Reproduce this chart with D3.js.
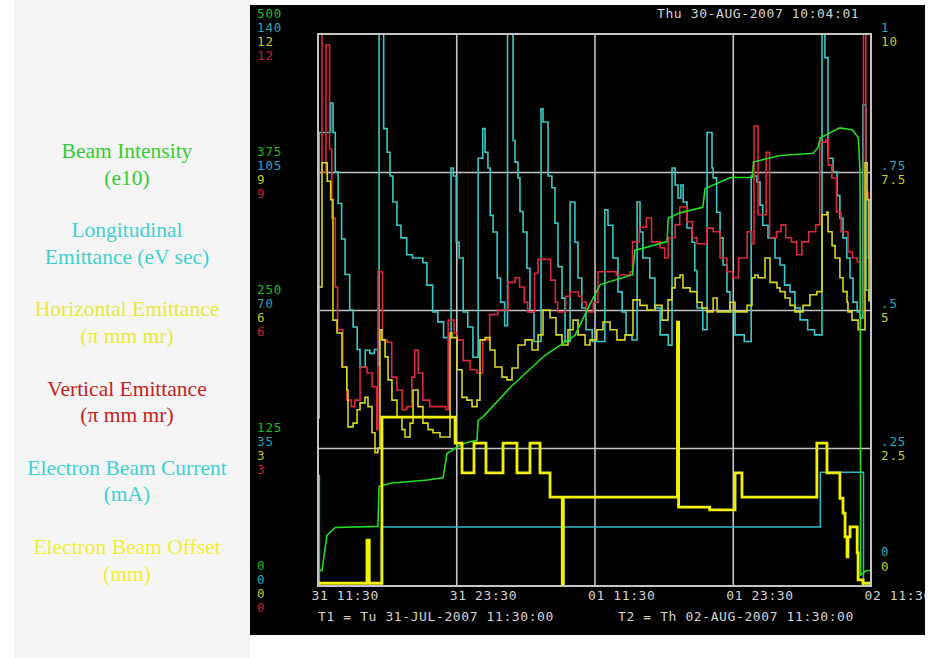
<!DOCTYPE html>
<html>
<head>
<meta charset="utf-8">
<script src="https://cdn.jsdelivr.net/npm/d3@7"></script>
<style>
body { margin: 0; background: #fff; }
</style>
</head>
<body>
<svg id="chart" width="930" height="658"></svg>
<script>
"use strict";

// ---- data (hours after T1, value) ----
const t1 = new Date(2007, 6, 31, 11, 30);
const t2 = new Date(2007, 7, 2, 11, 30);
const timeTicks = [0, 12, 24, 36, 48];

const intensityTicks = [0, 125, 250, 375, 500];
const longTicks = [0, 35, 70, 105, 140];
const horizTicks = [0, 3, 6, 9, 12];
const vertTicks = [0, 3, 6, 9, 12];
const currentTicks = [0, 0.25, 0.5, 0.75, 1];
const offsetTicks = [0, 2.5, 5, 7.5, 10];

const legendLabels = [
    ["Beam Intensity", "(e10)"],
    ["Longitudinal", "Emittance (eV sec)"],
    ["Horizontal Emittance", "(\u03c0 mm mr)"],
    ["Vertical Emittance", "(\u03c0 mm mr)"],
    ["Electron Beam Current", "(mA)"],
    ["Electron Beam Offset", "(mm)"]
];

const beamIntensity = [[0,125],[0.08,14],[0.35,14],[0.78,46],[1.5,53],[5.2,54],[5.3,90],[6.25,93],[9.5,96],
    [10.85,98],[11.2,120],[12.1,126],[12.9,130],[13.8,132],[13.9,150],[14.3,153],[16.7,180],[19.7,209],
    [22.3,227],[23.6,255],[24.5,273],[27.3,282],[27.5,304],[30.3,312],[30.4,333],[31.4,338],[33.4,343],
    [33.6,360],[35.8,370],[37.7,370],[37.8,384],[40.1,390],[42.97,392],[43.4,397],[43.6,406],[45.3,415],
    [46.4,413],[46.9,406],[47.05,375],[47.1,10],[47.6,14],[48,14]];

const longEmittance = [[0,42.6],[0.1,115],[1.1,122.5],[1.3,115],[1.5,105],[1.75,97],[2.05,88],[2.35,79],
    [2.75,70],[3.05,65.7],[3.4,60],[3.65,55.5],[4.1,59.8],[4.5,59],[4.9,60],[5.2,56],[5.3,140],[5.7,116],
    [6.0,110],[6.25,104],[6.5,97.4],[6.85,91.5],[7.2,88.3],[7.7,84],[8.2,83.2],[9.1,82],[9.45,76.3],
    [9.95,69.5],[10.4,67],[10.9,63],[11.55,106],[11.75,104],[12.0,87.2],[12.25,83.2],[12.6,69.5],
    [13.0,65.7],[13.45,58],[13.9,108.5],[14.3,116],[14.5,110],[14.75,106],[14.95,94],[15.2,89.8],
    [15.55,78.1],[15.85,72],[16.2,66],[16.45,140],[16.93,113],[17.1,107.5],[17.36,103.5],[17.53,95],
    [17.8,89.8],[18.14,80.6],[18.4,69.5],[18.75,62],[19.36,121],[19.53,117.7],[19.97,104],[20.3,101],
    [20.57,92],[20.83,81],[21.18,73],[21.44,62],[21.88,97.4],[22.3,87.2],[22.57,78.1],[22.9,70.5],
    [23.26,65],[23.8,62],[24.9,95.4],[25.17,91.5],[25.6,83.2],[26.04,74.6],[26.4,69.5],[26.74,63.7],
    [27.26,62.4],[27.7,97.4],[27.95,89.8],[28.2,83.2],[28.8,78.1],[29.25,70.5],[29.7,63.7],[30.4,61.1],
    [30.73,106],[31.0,101.7],[31.25,98.4],[31.5,101.7],[31.7,97.4],[32.03,90.8],[32.47,87.2],[32.7,80],
    [32.9,70.5],[33.4,65],[33.77,115],[34.2,106],[34.3,103.5],[34.6,94.8],[34.9,88.3],[35.16,81.4],
    [35.5,74.6],[35.76,69.5],[36.2,63.7],[37.0,62],[37.6,104],[38.1,102.5],[38.37,96.6],[38.6,91.5],
    [39.06,88.3],[39.67,83.2],[40.1,81.4],[40.5,76.3],[40.97,74.6],[41.4,70.5],[41.84,67.5],[42.5,65],
    [43.1,63.7],[43.75,140],[44.0,134],[44.27,108.5],[44.7,105],[45.05,99],[45.3,93.3],[45.57,88.3],
    [45.9,83.2],[46.18,78.1],[46.44,72],[46.8,69.5],[47.05,68],[47.3,122],[47.57,75],[47.83,72.5],[48,72.5]];

const horizEmittance = [[0,6.5],[0.35,9.2],[0.8,8.8],[1.1,8.4],[1.3,5.78],[1.65,5.5],[2.08,4.76],[2.5,4.26],
    [2.6,3.46],[3.04,3.54],[3.39,3.83],[3.65,3.98],[4.08,4.1],[4.34,3.9],[4.69,3.33],[4.95,2.9],[5.2,3.0],
    [5.38,5.57],[5.55,5.35],[5.82,4.98],[6.08,4.48],[6.42,4.04],[6.86,3.67],[7.29,3.4],[7.55,3.24],
    [7.99,3.54],[8.25,4.26],[8.68,3.9],[9.11,3.54],[9.55,3.4],[9.98,3.33],[10.59,3.24],[11.2,3.24],
    [11.46,5.5],[11.63,5.4],[12.07,4.7],[12.5,4.1],[12.93,4.04],[13.37,3.9],[13.8,4.04],[14.06,5.35],
    [14.5,5.4],[14.93,5.13],[15.36,4.76],[15.97,4.54],[16.4,4.48],[16.84,4.74],[17.36,5.24],[17.97,5.35],
    [18.58,5.13],[19.1,5.46],[19.53,6.0],[20.14,5.83],[20.66,5.46],[21.18,5.24],[21.7,5.57],[22.14,5.78],
    [22.57,5.46],[23.18,5.24],[23.61,5.35],[24.2,5.57],[24.74,5.74],[25.35,5.57],[25.95,5.35],[26.65,5.46],
    [27.34,6.22],[27.95,6.1],[28.56,6.0],[29.25,6.1],[29.86,5.78],[30.38,6.22],[30.73,6.48],[31.0,6.7],
    [31.42,6.76],[31.68,6.48],[32.3,6.4],[32.9,6.17],[33.33,6.04],[33.77,5.96],[34.3,6.26],[34.64,5.96],
    [35.76,6.17],[36.2,5.96],[37.24,6.1],[37.67,6.7],[37.93,6.76],[38.2,6.7],[38.8,7.13],[39.06,7.13],
    [39.24,6.6],[39.84,6.48],[40.1,6.4],[40.54,6.26],[40.97,6.1],[41.4,5.96],[42.1,6.1],[42.7,6.33],
    [43.3,6.4],[43.75,8.07],[44.18,8.13],[44.27,7.7],[44.62,7.4],[44.88,7.13],[45.3,6.7],[45.57,6.4],
    [45.92,6.17],[46.0,5.96],[46.35,5.78],[46.88,5.57],[47.48,9.2],[47.66,8.4],[47.83,6.2],[48,6.2]];

const vertEmittance = [[0,12],[0.35,9.0],[0.7,11.76],[1.0,9.5],[1.2,8.0],[1.5,6.5],[1.7,5.57],[2.15,4.76],
    [2.5,4.04],[2.9,3.9],[3.2,4.04],[3.65,4.76],[4.25,4.63],[4.7,4.33],[5.1,3.4],[5.2,6.83],[5.6,5.35],
    [6.0,5.3],[6.4,4.54],[6.85,4.26],[7.3,3.83],[7.7,3.9],[8.15,4.54],[8.4,5.13],[8.7,4.63],[9.1,4.04],
    [9.7,3.9],[10.6,3.9],[11.1,3.83],[11.3,5.78],[11.8,5.5],[12.1,5.35],[12.6,4.9],[13.2,4.7],[13.8,4.63],
    [14.3,5.35],[14.9,5.9],[15.6,6.0],[16.5,6.6],[17.1,6.7],[17.5,6.5],[17.9,6.17],[18.2,5.96],[18.8,6.8],
    [19.1,7.1],[19.97,7.1],[20.2,6.65],[20.6,6.17],[20.8,5.96],[21.5,6.3],[21.9,6.39],[22.6,6.3],
    [22.9,6.17],[23.3,5.96],[23.9,6.17],[24.3,6.83],[25.5,6.83],[25.9,6.76],[27.1,6.83],[27.3,7.48],
    [27.9,7.8],[28.5,8.0],[28.95,7.48],[29.7,7.35],[30.1,7.13],[30.4,7.57],[31.0,7.85],[31.4,8.24],
    [32.0,7.92],[32.5,7.57],[32.9,7.44],[33.75,7.78],[34.3,7.7],[34.9,7.13],[35.5,6.83],[36.0,6.7],
    [36.5,7.13],[37.25,7.7],[37.65,7.44],[37.85,10.0],[38.2,8.07],[38.9,9.43],[39.2,7.57],[39.8,7.7],
    [40.2,7.85],[40.6,7.57],[41.1,7.48],[41.55,7.2],[42.0,7.48],[42.6,7.7],[43.2,7.85],[43.55,9.65],
    [44.1,9.7],[44.3,9.15],[44.6,8.87],[45.0,8.13],[45.4,7.7],[46.0,7.26],[46.4,7.13],[46.8,7.05],
    [47.1,6.0],[47.35,12.0],[47.55,8.56],[47.75,7.13],[48,7.13]];

const ebCurrent = [[0,0.2],[0.12,0],[5.5,0.107],[43.6,0.206],[47.35,0],[48,0]];

const ebOffset = [[0,0.05],[4.25,0.83],[4.45,0.05],[5.55,3.06],[11.9,2.59],[12.5,2.05],[13.54,2.59],
    [14.58,2.05],[16.06,2.59],[17.27,2.05],[18.4,2.59],[19.27,2.05],[20.14,1.61],[21.2,0],[21.3,1.61],
    [31.2,4.78],[31.3,1.43],[34.0,1.38],[36.2,2.05],[36.8,1.61],[43.3,2.59],[44.18,2.05],[45.3,1.59],
    [45.57,1.32],[45.75,0.89],[45.92,0.53],[46.0,0.89],[46.18,1.07],[46.8,0.6],[46.88,0.11],[47.3,0.05],[48,0.05]];

// ---- colours ----
const cGreen = "#22dd22", cCyan = "#3cc8c8", cYellow = "#d6d61e", cRed = "#d8283c";
const cOffset = "#f2f200", cCurrent = "#30b8c8";
const legendColors = ["#33cc33", "#3fd0d0", "#e8e83a", "#c82020", "#3fd0d0", "#eeee33"];
const mono = "'DejaVu Sans Mono', monospace";
const labelGray = "#d4d4d4";

const svg = d3.select("#chart");

// left legend panel
svg.append("rect").attr("x", 14).attr("y", 0).attr("width", 236).attr("height", 658).attr("fill", "#f5f5f5");
legendLabels.forEach(function(lines, i) {
    lines.forEach(function(t, j) {
        svg.append("text")
        .attr("x", 127)
        .attr("y", 158 + i * 79.2 + j * 26.5)
        .attr("text-anchor", "middle")
        .attr("font-family", "'Liberation Serif', 'Times New Roman', serif")
        .attr("font-size", 21.5)
        .attr("fill", legendColors[i])
        .text(t);
    });
});

// black scope panel
svg.append("clipPath").attr("id", "panelClip")
    .append("rect").attr("x", 250).attr("y", 5).attr("width", 675).attr("height", 630);
const panel = svg.append("g").attr("clip-path", "url(#panelClip)");
panel.append("rect").attr("x", 250).attr("y", 5).attr("width", 675).attr("height", 630).attr("fill", "#000");

const plotLeft = 318, plotRight = 871, plotTop = 34, plotBottom = 586;

const x = d3.scaleTime().domain([t1, t2]).range([plotLeft, plotRight]);
const hourToDate = h => new Date(+t1 + h * 3600e3);
const yInt = d3.scaleLinear().domain([0, 500]).range([plotBottom, plotTop]);
const yLong = d3.scaleLinear().domain([0, 140]).range([plotBottom, plotTop]);
const yHor = d3.scaleLinear().domain([0, 12]).range([plotBottom, plotTop]);
const yVer = d3.scaleLinear().domain([0, 12]).range([plotBottom, plotTop]);
const yCur = d3.scaleLinear().domain([0, 1]).range([plotBottom, plotTop]);
const yOff = d3.scaleLinear().domain([0, 10]).range([plotBottom, plotTop]);

const tickDates = timeTicks.map(hourToDate);

// grid
panel.append("g")
    .attr("class", "yGrid grid")
    .attr("transform", `translate(${plotLeft},0)`)
    .call(d3.axisLeft(yInt).tickValues(intensityTicks.slice(1, 4)).tickSize(-(plotRight - plotLeft)).tickFormat(""));
panel.append("g")
    .attr("class", "xGrid grid")
    .attr("transform", `translate(0,${plotBottom})`)
    .call(d3.axisBottom(x).tickValues(tickDates.slice(1, 4)).tickSize(-(plotBottom - plotTop)).tickFormat(""));
panel.selectAll("g.grid .domain").remove();
panel.selectAll("g.grid line").attr("stroke", "#c4c4c4").attr("stroke-width", 1.6);

// traces
svg.append("clipPath").attr("id", "plotClip")
    .append("rect").attr("x", plotLeft).attr("y", plotTop - 1)
    .attr("width", plotRight - plotLeft).attr("height", plotBottom - plotTop + 2);
const plot = panel.append("g").attr("clip-path", "url(#plotClip)");

function trace(data, y, color, width, curve) {
    plot.append("path")
        .datum(data)
        .attr("fill", "none")
        .attr("stroke", color)
        .attr("stroke-width", width)
        .attr("stroke-linejoin", "miter")
        .attr("d", d3.line().x(d => x(hourToDate(d[0]))).y(d => y(d[1])).curve(curve));
}
trace(longEmittance, yLong, cCyan, 1.6, d3.curveStepAfter);
trace(vertEmittance, yVer, cRed, 1.6, d3.curveStepAfter);
trace(horizEmittance, yHor, cYellow, 1.6, d3.curveStepAfter);
trace(ebCurrent, yCur, cCurrent, 1.5, d3.curveStepAfter);
trace(beamIntensity, yInt, cGreen, 1.6, d3.curveLinear);
trace(ebOffset, yOff, cOffset, 2.8, d3.curveStepAfter);

// frame
panel.append("rect")
    .attr("x", plotLeft).attr("y", plotTop)
    .attr("width", plotRight - plotLeft).attr("height", plotBottom - plotTop)
    .attr("fill", "none").attr("stroke", "#c4c4c4").attr("stroke-width", 2);

// stacked value labels
function valueAxis(axis, xPos, dy, color, zeroLift) {
    const g = panel.append("g")
        .attr("transform", `translate(${xPos},${dy})`)
        .call(axis.tickSize(0).tickPadding(0));
    g.select(".domain").remove();
    g.attr("font-family", mono).attr("font-size", 12.5);
    g.selectAll("text").attr("fill", color).attr("letter-spacing", 0.9);
    // right-hand zeros sit higher to clear the time labels
    if (zeroLift) g.selectAll(".tick text").filter(d => d === 0).attr("y", -zeroLift);
}
const shortFmt = d => d === 0 || d === 1 ? String(d) : String(d).replace(/^0/, "");
valueAxis(d3.axisRight(yInt).tickValues(intensityTicks), 257, -21, "#22bb22");
valueAxis(d3.axisRight(yLong).tickValues(longTicks), 257, -7, "#22aabb");
valueAxis(d3.axisRight(yHor).tickValues(horizTicks), 257, 7, "#c8c820");
valueAxis(d3.axisRight(yVer).tickValues(vertTicks), 257, 21, "#c82030");
valueAxis(d3.axisRight(yCur).tickValues(currentTicks).tickFormat(shortFmt), 881, -7, "#22aabb", 28);
valueAxis(d3.axisRight(yOff).tickValues(offsetTicks).tickFormat(d3.format("~g")), 881, 7, "#c8c820", 27);

// time axis
const xAxis = panel.append("g")
    .attr("transform", `translate(0,${plotBottom})`)
    .call(d3.axisBottom(x).tickValues(tickDates).tickSize(0).tickPadding(5).tickFormat(d3.timeFormat("%d %H:%M")));
xAxis.select(".domain").remove();
xAxis.attr("font-family", mono).attr("font-size", 13);
xAxis.selectAll("text")
    .attr("fill", labelGray)
    .attr("text-anchor", "start")
    .attr("dx", -7)
    .attr("letter-spacing", 0.6);

function scopeText(tx, ty, str) {
    panel.append("text")
        .attr("x", tx).attr("y", ty)
        .attr("font-family", mono).attr("font-size", 13)
        .attr("letter-spacing", 0.6)
        .attr("fill", labelGray)
        .text(str);
}
scopeText(657, 18, "Thu 30-AUG-2007 10:04:01");
scopeText(318, 621, "T1 = Tu 31-JUL-2007 11:30:00");
scopeText(618, 621, "T2 = Th 02-AUG-2007 11:30:00");
</script>
</body>
</html>
